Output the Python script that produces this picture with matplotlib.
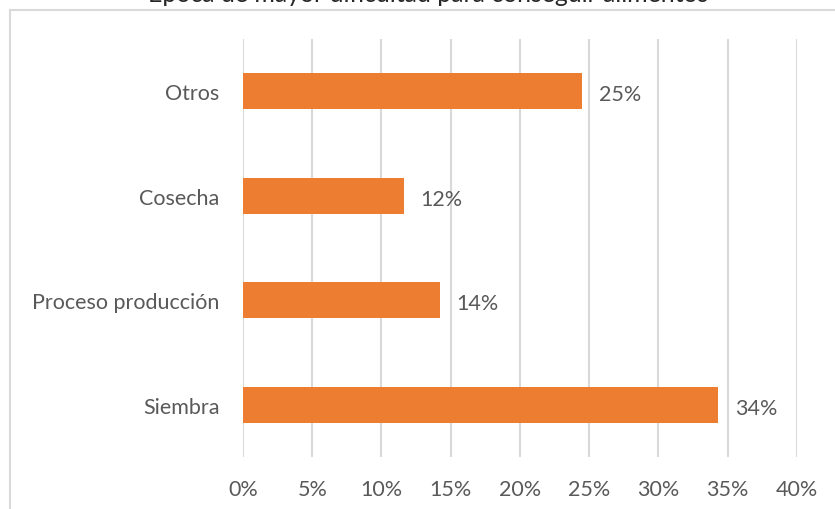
import matplotlib.pyplot as plt
from matplotlib.patches import Rectangle

plt.rcParams['font.family'] = ['Lato', 'DejaVu Sans']

# datos
categorias = ['Siembra', 'Proceso producción', 'Cosecha', 'Otros']
valores = [34.3, 14.2, 11.6, 24.5]
etiquetas = ['34%', '14%', '12%', '25%']
ticks_x = [0, 5, 10, 15, 20, 25, 30, 35, 40]

naranja = '#ED7D31'
gris_texto = '#595959'
gris_linea = '#D9D9D9'

fig = plt.figure(figsize=(8.35, 5.10), dpi=100)
ax = fig.add_axes([243 / 835, 1 - 458 / 510, (797 - 243) / 835, (458 - 40) / 510])

# marco del grafico
fig.patches.append(Rectangle((10 / 835, -0.5), 1.5, 1 - 11 / 510 + 0.5,
                             transform=fig.transFigure, fill=False,
                             edgecolor=gris_linea, linewidth=1.5))

pos = range(len(categorias))
ax.barh(pos, valores, height=0.345, color=naranja, zorder=3)

for p, v, t in zip(pos, valores, etiquetas):
    ax.text(v + 1.2, p - 0.03, t, va='center', ha='left', fontsize=15.5, color=gris_texto)

ax.set_xlim(0, 40)
ax.set_ylim(-0.5, 3.5)
ax.set_xticks(ticks_x)
ax.set_xticklabels([f'{t}%' for t in ticks_x])
ax.set_yticks(list(pos))
ax.set_yticklabels(categorias)
ax.tick_params(axis='both', length=0, labelsize=15.5, labelcolor=gris_texto)
ax.tick_params(axis='x', pad=16)
ax.tick_params(axis='y', pad=17)
ax.grid(axis='x', color=gris_linea, linewidth=1.5, zorder=0)
for s in ax.spines.values():
    s.set_visible(False)

fig.text(428 / 835, 1 - 2 / 510, 'Época de mayor dificultad para conseguir alimentos',
         ha='center', va='baseline', fontsize=17.9, color='#262626')

fig.savefig('out.png', dpi=100)
